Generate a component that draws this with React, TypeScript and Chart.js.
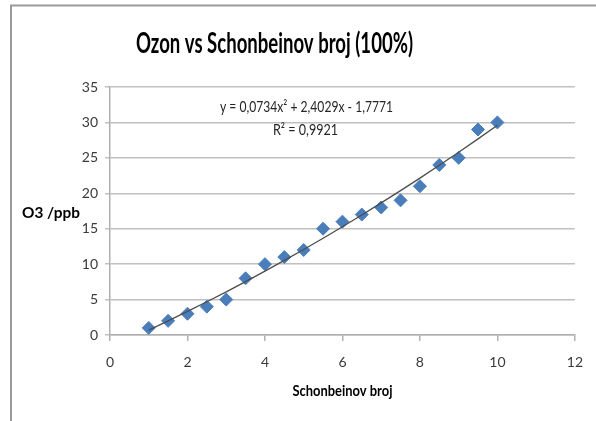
import React, { useEffect, useRef } from "react";
import { Chart, registerables } from "chart.js";

Chart.register(...registerables);

const xValues = [1, 1.5, 2, 2.5, 3, 3.5, 4, 4.5, 5, 5.5, 6, 6.5, 7, 7.5, 8, 8.5, 9, 9.5, 10];
const o3Values = [1, 2, 3, 4, 5, 8, 10, 11, 12, 15, 16, 17, 18, 19, 21, 24, 25, 29, 30];
// trendline coefficients as printed on the chart: a x^2 + b x + c
const trendCoef = [0.0734, 2.4029, -1.7771];
const titleText = "Ozon vs Schonbeinov broj (100%)";
const xTitle = "Schonbeinov broj";
const yTitle = "O3 /ppb";
const equationText = "y = 0,0734x\u00B2 + 2,4029x - 1,7771";
const r2Text = "R\u00B2 = 0,9921";

function drawFit(
  ctx: CanvasRenderingContext2D,
  text: string,
  cx: number,
  baseY: number,
  font: string,
  targetW: number,
  color: string
) {
  ctx.save();
  ctx.font = font;
  const w = ctx.measureText(text).width;
  const s = targetW / w;
  ctx.translate(cx, baseY);
  ctx.scale(s, 1);
  ctx.textAlign = "center";
  ctx.textBaseline = "alphabetic";
  ctx.fillStyle = color;
  ctx.fillText(text, 0, 0);
  ctx.restore();
}

const decorPlugin = {
  id: "decor",
  beforeDraw(chart: any) {
    const ctx = chart.ctx as CanvasRenderingContext2D;
    ctx.save();
    ctx.fillStyle = "#ffffff";
    ctx.fillRect(0, 0, chart.width, chart.height);
    ctx.strokeStyle = "#9a9a9a";
    ctx.lineWidth = 2;
    ctx.beginPath();
    ctx.moveTo(11, chart.height + 2);
    ctx.lineTo(11, 5.5);
    ctx.lineTo(chart.width + 2, 5.5);
    ctx.stroke();
    ctx.restore();
  },
  afterDraw(chart: any) {
    const ctx = chart.ctx as CanvasRenderingContext2D;
    const area = chart.chartArea;
    const cx = (area.left + area.right) / 2;
    drawFit(ctx, titleText, 274.5, 53, "bold 28px Lato", 277, "#000000");
    drawFit(ctx, equationText, 306.5, 112, "15px Lato", 173, "#262626");
    drawFit(ctx, r2Text, 305.5, 135, "15px Lato", 65, "#262626");
    drawFit(ctx, yTitle, 51, 218, "bold 16px Lato", 58, "#000000");
    drawFit(ctx, xTitle, cx, 396, "bold 15px Lato", 100, "#000000");
  },
};

export default function App() {
  const ref = useRef<HTMLCanvasElement>(null);

  useEffect(() => {
    document.body.style.margin = "0";
    const canvas = ref.current;
    if (!canvas) return;
    const trend = xValues.map((x) => ({
      x,
      y: trendCoef[0] * x * x + trendCoef[1] * x + trendCoef[2],
    }));
    const points = xValues.map((x, i) => ({ x, y: o3Values[i] }));
    const chart = new Chart(canvas, {
      type: "scatter",
      data: {
        datasets: [
          {
            label: "Trend",
            data: trend,
            showLine: true,
            borderColor: "#4d4d4d",
            borderWidth: 1.3,
            pointRadius: 0,
            pointHoverRadius: 0,
            fill: false,
          },
          {
            label: "O3",
            data: points,
            pointStyle: "rectRot",
            pointRadius: 6.5,
            backgroundColor: "#4a7ebb",
            borderColor: "#4a7ebb",
            borderWidth: 1,
          },
        ],
      },
      options: {
        responsive: false,
        animation: false,
        layout: { padding: { top: 87, right: 19, left: 0, bottom: 0 } },
        plugins: {
          legend: { display: false },
          title: { display: false },
          tooltip: { enabled: false },
        },
        scales: {
          x: {
            type: "linear",
            min: 0,
            max: 12,
            afterFit(scale: any) {
              scale.height = 86;
            },
            ticks: {
              stepSize: 2,
              color: "#3a3a3a",
              font: { family: "Lato", size: 14 },
              padding: 13,
            },
            grid: {
              drawOnChartArea: false,
              drawTicks: true,
              tickLength: 6,
              color: "#b0b0b0",
              lineWidth: 1.5,
            },
            border: { display: true, color: "#b0b0b0", width: 1.5 },
          },
          y: {
            type: "linear",
            min: 0,
            max: 35,
            afterFit(scale: any) {
              scale.width = 110;
            },
            ticks: {
              stepSize: 5,
              color: "#3a3a3a",
              font: { family: "Lato", size: 14 },
              padding: 7,
            },
            grid: {
              drawOnChartArea: true,
              drawTicks: true,
              tickLength: 5,
              color: "#c0c0c0",
              lineWidth: 1.5,
            },
            border: { display: true, color: "#b0b0b0", width: 1.5 },
          },
        },
      },
      plugins: [decorPlugin],
    });
    return () => chart.destroy();
  }, []);

  return (
    <div style={{ width: 596, height: 421 }}>
      <canvas ref={ref} width={596} height={421} style={{ display: "block" }} />
    </div>
  );
}
